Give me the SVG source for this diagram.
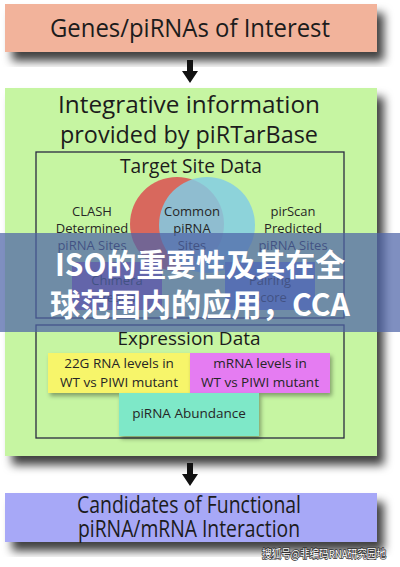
<svg xmlns="http://www.w3.org/2000/svg" width="400" height="567" viewBox="0 0 400 567">
<defs>
<filter id="sh" x="-10%" y="-10%" width="130%" height="140%">
<feDropShadow dx="7" dy="9" stdDeviation="5" flood-color="#000" flood-opacity="0.75"/>
</filter>
<filter id="sh2" x="-10%" y="-10%" width="130%" height="140%">
<feDropShadow dx="2" dy="3" stdDeviation="2" flood-color="#000" flood-opacity="0.35"/>
</filter>
</defs>
<style>
text{font-family:"Open Sans","Liberation Sans",sans-serif;text-anchor:middle;fill:#1c1c1c}
.big{font-size:24px}
.mid{font-size:20px}
.sm{font-size:13.5px;fill:#262626}
.xs{font-size:13px;fill:#262626}
.frame{fill:none;stroke:#2a2a40;stroke-width:1.3}
.arrow{fill:#111}
.cn{font-family:"Noto Sans CJK SC",sans-serif;font-weight:bold;font-size:31px;fill:#fff}
</style>
<rect width="400" height="567" fill="#ffffff"/>

<g id="genes">
<rect x="5" y="4" width="372" height="48" fill="#f2b39b" filter="url(#sh)"/>
<text x="190" y="37" style="font-size:26px" fill="#2a1a1a" textLength="280" lengthAdjust="spacingAndGlyphs">Genes/piRNAs of Interest</text>
</g>

<g id="integrative">
<rect x="5" y="88" width="372" height="368" fill="#c6f5a2" filter="url(#sh)"/>
<text class="big" x="189" y="113" textLength="262" lengthAdjust="spacingAndGlyphs">Integrative information</text>
<text class="big" x="189" y="143" textLength="258" lengthAdjust="spacingAndGlyphs">provided by piRTarBase</text>
</g>

<g id="target-site">
<rect class="frame" x="36" y="152" width="308" height="166"/>
<text class="mid" x="191" y="173" textLength="142" lengthAdjust="spacingAndGlyphs">Target Site Data</text>
<circle cx="177" cy="224" r="47" fill="#d9605a" opacity="0.95"/>
<circle cx="207" cy="225" r="48" fill="#82cde4" opacity="0.85"/>
<text class="xs" x="92" y="216">CLASH</text>
<text class="xs" x="92" y="233">Determined</text>
<text class="xs" x="92" y="250">piRNA Sites</text>
<text class="xs" x="192" y="216">Common</text>
<text class="xs" x="192" y="233">piRNA</text>
<text class="xs" x="192" y="250">Sites</text>
<text class="xs" x="293" y="216">pirScan</text>
<text class="xs" x="293" y="233">Predicted</text>
<text class="xs" x="293" y="250">piRNA Sites</text>
</g>

<g id="chimera">
<rect x="72" y="262" width="90" height="48" fill="#9a6ab0"/>
<text class="xs" x="117" y="285">Chimera</text>
<text class="xs" x="117" y="302">Reads</text>
</g>
<g id="pairing">
<rect x="225" y="262" width="90" height="48" fill="#6f8fd0"/>
<text class="xs" x="270" y="285">Pairing</text>
<text class="xs" x="270" y="302">Score</text>
</g>

<g id="expression">
<rect class="frame" x="36" y="325" width="308" height="113"/>
<text class="mid" x="189" y="345" style="font-size:19px" textLength="143" lengthAdjust="spacingAndGlyphs">Expression Data</text>
</g>

<g id="g22">
<rect x="48" y="353" width="142" height="40" fill="#f7f56a" filter="url(#sh2)"/>
<text class="sm" x="119" y="368">22G RNA levels in</text>
<text class="sm" x="119" y="387">WT vs PIWI mutant</text>
</g>
<g id="mrna">
<rect x="190" y="353" width="140" height="40" fill="#e57cf2" filter="url(#sh2)"/>
<text class="sm" x="260" y="368">mRNA levels in</text>
<text class="sm" x="260" y="387">WT vs PIWI mutant</text>
</g>
<g id="abundance">
<rect x="119" y="393" width="140" height="43" fill="#7ee8c8" filter="url(#sh2)"/>
<text class="sm" x="189" y="418">piRNA Abundance</text>
</g>

<g id="candidates">
<rect x="5" y="493" width="372" height="49" fill="#a7a8f7" filter="url(#sh)"/>
<text class="big" x="189" y="513" style="font-size:23px" fill="#1c1c3c" textLength="224" lengthAdjust="spacingAndGlyphs">Candidates of Functional</text>
<text class="big" x="189" y="537" style="font-size:23px" fill="#1c1c3c" textLength="222" lengthAdjust="spacingAndGlyphs">piRNA/mRNA Interaction</text>
</g>

<g id="connectors">
<path class="arrow" d="M187,60 H193 V71 H198 L190,83 L182,71 H187 Z"/>
<path class="arrow" d="M187,463 H193 V474 H198 L190,486 L182,474 H187 Z"/>
</g>

<g id="banner">
<rect x="0" y="233" width="400" height="99" fill="#4e64a8" opacity="0.72"/>
<text class="cn" x="200" y="276" textLength="290" lengthAdjust="spacingAndGlyphs">ISO的重要性及其在全</text>
<text class="cn" x="200" y="316" textLength="300" lengthAdjust="spacingAndGlyphs">球范围内的应用，CCA</text>
</g>

<g id="watermark">
<text x="324" y="558" style="font-family:'Noto Sans CJK SC',sans-serif;font-size:11px;fill:#fff;stroke:#333;stroke-width:1.5;paint-order:stroke" textLength="124" lengthAdjust="spacingAndGlyphs">搜狐号@非编码RNA研究园地</text>
</g>
</svg>
